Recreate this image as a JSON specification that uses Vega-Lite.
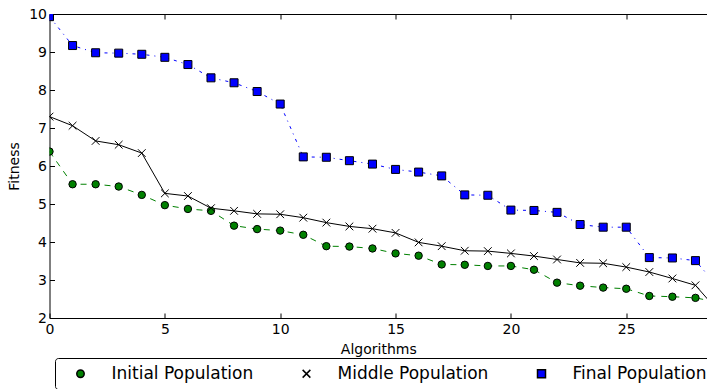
{
  "$schema": "https://vega.github.io/schema/vega-lite/v6.json",
  "autosize": {"type": "none"},
  "padding": {"left": 49.5, "top": 14, "right": 0, "bottom": 71},
  "width": 657.5,
  "height": 304,
  "config": {
    "font": "DejaVu Sans",
    "view": {"stroke": null},
    "axis": {"grid": false, "labelFlush": false, "domainColor": "black", "tickColor": "black", "labelColor": "black", "titleColor": "black", "labelFont": "DejaVu Sans", "titleFont": "DejaVu Sans", "labelFontSize": 14, "titleFontSize": 14, "titleFontWeight": "normal", "domainWidth": 1, "tickWidth": 1},
    "legend": {
      "orient": "none", "legendX": 5.5, "legendY": 344, "direction": "horizontal", "title": null,
      "labelFontSize": 17, "labelFont": "DejaVu Sans", "labelColor": "black", "labelLimit": 400,
      "symbolOffset": 10, "labelOffset": 22.5, "columnPadding": 34, "padding": 7,
      "strokeColor": "black", "cornerRadius": 3, "fillColor": "white"
    }
  },
  "data": {"values": [
    {"alg":0,"fitness":6.38,"series":"Initial Population"},{"alg":1,"fitness":5.52,"series":"Initial Population"},{"alg":2,"fitness":5.52,"series":"Initial Population"},{"alg":3,"fitness":5.46,"series":"Initial Population"},{"alg":4,"fitness":5.24,"series":"Initial Population"},{"alg":5,"fitness":4.97,"series":"Initial Population"},{"alg":6,"fitness":4.87,"series":"Initial Population"},{"alg":7,"fitness":4.82,"series":"Initial Population"},{"alg":8,"fitness":4.43,"series":"Initial Population"},{"alg":9,"fitness":4.34,"series":"Initial Population"},{"alg":10,"fitness":4.30,"series":"Initial Population"},{"alg":11,"fitness":4.19,"series":"Initial Population"},{"alg":12,"fitness":3.89,"series":"Initial Population"},{"alg":13,"fitness":3.88,"series":"Initial Population"},{"alg":14,"fitness":3.83,"series":"Initial Population"},{"alg":15,"fitness":3.70,"series":"Initial Population"},{"alg":16,"fitness":3.64,"series":"Initial Population"},{"alg":17,"fitness":3.41,"series":"Initial Population"},{"alg":18,"fitness":3.40,"series":"Initial Population"},{"alg":19,"fitness":3.37,"series":"Initial Population"},{"alg":20,"fitness":3.37,"series":"Initial Population"},{"alg":21,"fitness":3.27,"series":"Initial Population"},{"alg":22,"fitness":2.93,"series":"Initial Population"},{"alg":23,"fitness":2.85,"series":"Initial Population"},{"alg":24,"fitness":2.80,"series":"Initial Population"},{"alg":25,"fitness":2.77,"series":"Initial Population"},{"alg":26,"fitness":2.58,"series":"Initial Population"},{"alg":27,"fitness":2.56,"series":"Initial Population"},{"alg":28,"fitness":2.53,"series":"Initial Population"},{"alg":29,"fitness":2.41,"series":"Initial Population"},
    {"alg":0,"fitness":7.30,"series":"Middle Population"},{"alg":1,"fitness":7.06,"series":"Middle Population"},{"alg":2,"fitness":6.66,"series":"Middle Population"},{"alg":3,"fitness":6.56,"series":"Middle Population"},{"alg":4,"fitness":6.34,"series":"Middle Population"},{"alg":5,"fitness":5.28,"series":"Middle Population"},{"alg":6,"fitness":5.21,"series":"Middle Population"},{"alg":7,"fitness":4.89,"series":"Middle Population"},{"alg":8,"fitness":4.82,"series":"Middle Population"},{"alg":9,"fitness":4.74,"series":"Middle Population"},{"alg":10,"fitness":4.73,"series":"Middle Population"},{"alg":11,"fitness":4.64,"series":"Middle Population"},{"alg":12,"fitness":4.51,"series":"Middle Population"},{"alg":13,"fitness":4.41,"series":"Middle Population"},{"alg":14,"fitness":4.35,"series":"Middle Population"},{"alg":15,"fitness":4.24,"series":"Middle Population"},{"alg":16,"fitness":3.99,"series":"Middle Population"},{"alg":17,"fitness":3.89,"series":"Middle Population"},{"alg":18,"fitness":3.77,"series":"Middle Population"},{"alg":19,"fitness":3.76,"series":"Middle Population"},{"alg":20,"fitness":3.70,"series":"Middle Population"},{"alg":21,"fitness":3.63,"series":"Middle Population"},{"alg":22,"fitness":3.54,"series":"Middle Population"},{"alg":23,"fitness":3.45,"series":"Middle Population"},{"alg":24,"fitness":3.44,"series":"Middle Population"},{"alg":25,"fitness":3.34,"series":"Middle Population"},{"alg":26,"fitness":3.21,"series":"Middle Population"},{"alg":27,"fitness":3.04,"series":"Middle Population"},{"alg":28,"fitness":2.86,"series":"Middle Population"},{"alg":29,"fitness":2.17,"series":"Middle Population"},
    {"alg":0,"fitness":9.93,"series":"Final Population"},{"alg":1,"fitness":9.17,"series":"Final Population"},{"alg":2,"fitness":8.98,"series":"Final Population"},{"alg":3,"fitness":8.97,"series":"Final Population"},{"alg":4,"fitness":8.94,"series":"Final Population"},{"alg":5,"fitness":8.86,"series":"Final Population"},{"alg":6,"fitness":8.67,"series":"Final Population"},{"alg":7,"fitness":8.32,"series":"Final Population"},{"alg":8,"fitness":8.19,"series":"Final Population"},{"alg":9,"fitness":7.96,"series":"Final Population"},{"alg":10,"fitness":7.63,"series":"Final Population"},{"alg":11,"fitness":6.24,"series":"Final Population"},{"alg":12,"fitness":6.23,"series":"Final Population"},{"alg":13,"fitness":6.14,"series":"Final Population"},{"alg":14,"fitness":6.05,"series":"Final Population"},{"alg":15,"fitness":5.91,"series":"Final Population"},{"alg":16,"fitness":5.84,"series":"Final Population"},{"alg":17,"fitness":5.74,"series":"Final Population"},{"alg":18,"fitness":5.24,"series":"Final Population"},{"alg":19,"fitness":5.23,"series":"Final Population"},{"alg":20,"fitness":4.84,"series":"Final Population"},{"alg":21,"fitness":4.83,"series":"Final Population"},{"alg":22,"fitness":4.78,"series":"Final Population"},{"alg":23,"fitness":4.46,"series":"Final Population"},{"alg":24,"fitness":4.39,"series":"Final Population"},{"alg":25,"fitness":4.39,"series":"Final Population"},{"alg":26,"fitness":3.59,"series":"Final Population"},{"alg":27,"fitness":3.58,"series":"Final Population"},{"alg":28,"fitness":3.51,"series":"Final Population"},{"alg":29,"fitness":2.80,"series":"Final Population"}
  ]},
  "encoding": {
    "y": {"field": "fitness", "type": "quantitative", "scale": {"domain": [2, 10], "nice": false, "zero": false},
          "axis": {"values": [2,3,4,5,6,7,8,9,10], "tickSize": -5, "labelPadding": 8, "title": "Fitness", "titlePadding": 7}}
  },
  "resolve": {"axis": {"x": "independent"}},
  "layer": [
    {
      "transform": [{"filter": "datum.series === 'Initial Population'"}],
      "mark": {"type": "line", "clip": true, "strokeWidth": 1, "color": "#008000", "strokeDash": [6, 6]},
      "encoding": {
        "x": {"field": "alg", "type": "quantitative", "scale": {"domain": [0, 28.5], "nice": false, "zero": false},
              "axis": {"orient": "top", "values": [0,5,10,15,20,25], "tickSize": -5, "labels": false, "title": null}}
      }
    },
    {
      "transform": [{"filter": "datum.series === 'Middle Population'"}],
      "mark": {"type": "line", "clip": true, "strokeWidth": 1, "color": "#000000"},
      "encoding": {
        "x": {"field": "alg", "type": "quantitative", "scale": {"domain": [0, 28.5], "nice": false, "zero": false}, "axis": null}
      }
    },
    {
      "transform": [{"filter": "datum.series === 'Final Population'"}],
      "mark": {"type": "line", "clip": true, "strokeWidth": 1, "color": "#0000ff", "strokeDash": [3, 5, 1, 5]},
      "encoding": {
        "x": {"field": "alg", "type": "quantitative", "scale": {"domain": [0, 28.5], "nice": false, "zero": false}, "axis": null}
      }
    },
    {
      "mark": {"type": "point", "clip": true, "filled": true, "stroke": "black", "strokeWidth": 1, "opacity": 1},
      "encoding": {
        "x": {"field": "alg", "type": "quantitative", "scale": {"domain": [0, 28.5], "nice": false, "zero": false},
              "axis": {"orient": "bottom", "values": [0,5,10,15,20,25], "tickSize": -5, "labelPadding": 9, "title": "Algorithms", "titlePadding": 6}},
        "shape": {"field": "series", "type": "nominal", "scale": {"domain": ["Initial Population","Middle Population","Final Population"], "range": ["circle","M-1,-1L1,1M-1,1L1,-1","square"]}},
        "size": {"field": "series", "type": "nominal", "scale": {"domain": ["Initial Population","Middle Population","Final Population"], "range": [55,64,72]}},
        "color": {"field": "series", "type": "nominal", "scale": {"domain": ["Initial Population","Middle Population","Final Population"], "range": ["#008000","#000000","#0000ff"]}}
      }
    }
  ]
}
